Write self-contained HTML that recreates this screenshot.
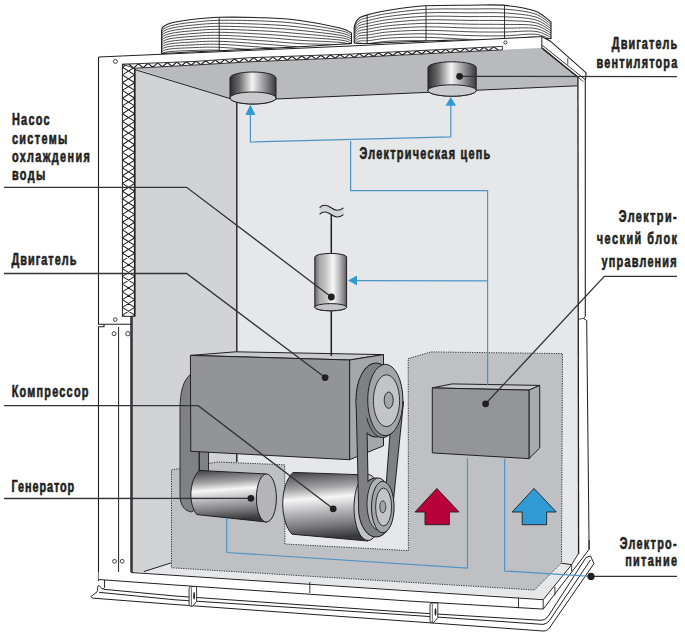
<!DOCTYPE html>
<html><head><meta charset="utf-8"><style>
html,body{margin:0;padding:0;background:#fff;width:685px;height:638px;overflow:hidden}
svg{display:block}
text{font-family:"Liberation Sans",sans-serif}
</style></head><body>
<svg width="685" height="638" viewBox="0 0 685 638">
<defs>
<linearGradient id="gv" x1="0" y1="0" x2="1" y2="0">
<stop offset="0" stop-color="#2e2e30"/><stop offset="0.2" stop-color="#6a6a6c"/><stop offset="0.48" stop-color="#f4f4f4"/><stop offset="0.66" stop-color="#b4b4b6"/><stop offset="0.86" stop-color="#6c6c6e"/><stop offset="1" stop-color="#3a3a3c"/>
</linearGradient>
<linearGradient id="gp" x1="0" y1="0" x2="1" y2="0">
<stop offset="0" stop-color="#646466"/><stop offset="0.15" stop-color="#a9a9ab"/><stop offset="0.35" stop-color="#c4c4c6"/><stop offset="0.57" stop-color="#f8f8f8"/><stop offset="0.76" stop-color="#bdbdbf"/><stop offset="0.9" stop-color="#89898b"/><stop offset="1" stop-color="#59595b"/>
</linearGradient>
<linearGradient id="gh" x1="0" y1="0" x2="0.1" y2="1">
<stop offset="0" stop-color="#3c3c3e"/><stop offset="0.12" stop-color="#6e6e70"/><stop offset="0.26" stop-color="#a4a4a6"/><stop offset="0.41" stop-color="#f6f6f6"/><stop offset="0.5" stop-color="#dadadc"/><stop offset="0.63" stop-color="#b0b0b2"/><stop offset="0.8" stop-color="#7e7e80"/><stop offset="1" stop-color="#38383a"/>
</linearGradient>
</defs>
<defs><clipPath id="fc1"><path d="M161.6,30 C161.9,29.4 161.8,27.7 163.5,26.5 C165.2,25.3 167.6,23.9 172,22.8 C176.4,21.7 182.2,20.7 190,19.8 C197.8,18.9 206.5,17.6 219,17.3 C231.5,17 251.5,17.3 265,17.8 C278.5,18.3 287.5,18.8 300,20.5 C312.5,22.2 331.4,25.9 340,28 C348.6,30.1 349.6,32.2 351.5,33 L351.5,43.5 L351.5,43.5 C349.6,43.6 348.6,43.8 340,44.3 C331.4,44.8 312.5,46.1 300,46.8 C287.5,47.5 278.5,47.9 265,48.6 C251.5,49.3 231.5,50.2 219,50.8 C206.5,51.4 197.8,51.6 190,52 C182.2,52.4 176.4,52.8 172,53 C167.6,53.2 165.2,53.3 163.5,53.4 C161.8,53.5 161.9,53.5 161.6,53.5 Z"/></clipPath><clipPath id="fc2"><path d="M354.2,27 C354.5,26.2 355,23.6 356,22 C357,20.4 357.9,18.7 360,17.5 C362.1,16.3 363.6,15.8 368.4,14.6 C373.2,13.4 379.2,11.7 388.8,10.2 C398.4,8.7 412.5,6.6 426,5.8 C439.5,5 456.8,5.3 470,5.2 C483.2,5.1 494.2,4.4 505,5.4 C515.8,6.4 527.3,8.2 535,11 C542.7,13.8 548.3,20.2 551,22 L551,38.5 L551,38.5 C548.3,38.5 542.7,38.7 535,38.8 C527.3,38.9 515.8,39 505,39.2 C494.2,39.4 483.2,39.5 470,39.8 C456.8,40.1 439.5,40.5 426,41 C412.5,41.5 398.4,42.1 388.8,42.5 C379.2,42.9 373.2,43.4 368.4,43.5 C363.6,43.6 362.1,43.4 360,43.4 C357.9,43.4 357,43.3 356,43.2 C355,43.1 354.5,43 354.2,43 Z"/></clipPath></defs>
<rect width="685" height="638" fill="#fff"/>
<path d="M161.6,30 C161.9,29.4 161.8,27.7 163.5,26.5 C165.2,25.3 167.6,23.9 172,22.8 C176.4,21.7 182.2,20.7 190,19.8 C197.8,18.9 206.5,17.6 219,17.3 C231.5,17 251.5,17.3 265,17.8 C278.5,18.3 287.5,18.8 300,20.5 C312.5,22.2 331.4,25.9 340,28 C348.6,30.1 349.6,32.2 351.5,33 L351.5,43.5 L351.5,43.5 C349.6,43.6 348.6,43.8 340,44.3 C331.4,44.8 312.5,46.1 300,46.8 C287.5,47.5 278.5,47.9 265,48.6 C251.5,49.3 231.5,50.2 219,50.8 C206.5,51.4 197.8,51.6 190,52 C182.2,52.4 176.4,52.8 172,53 C167.6,53.2 165.2,53.3 163.5,53.4 C161.8,53.5 161.9,53.5 161.6,53.5 Z" fill="#fff" stroke="none"/>
<path d="M161.6,32.3 C161.9,31.7 161.8,30 163.5,28.9 C165.2,27.8 167.6,26.5 172,25.4 C176.4,24.4 182.2,23.5 190,22.6 C197.8,21.8 206.5,20.6 219,20.3 C231.5,20.1 251.5,20.5 265,21.1 C278.5,21.7 287.5,22.2 300,23.8 C312.5,25.4 331.4,28.5 340,30.4 C348.6,32.3 349.6,34.2 351.5,35 M161.6,34.6 C161.9,34.1 161.8,32.4 163.5,31.3 C165.2,30.2 167.6,29 172,28 C176.4,27 182.2,26.2 190,25.4 C197.8,24.6 206.5,23.5 219,23.3 C231.5,23.1 251.5,23.8 265,24.4 C278.5,25 287.5,25.7 300,27.1 C312.5,28.5 331.4,31.1 340,32.8 C348.6,34.4 349.6,36.3 351.5,37 M161.6,36.9 C161.9,36.4 161.8,34.8 163.5,33.7 C165.2,32.7 167.6,31.5 172,30.6 C176.4,29.7 182.2,28.9 190,28.2 C197.8,27.5 206.5,26.4 219,26.3 C231.5,26.2 251.5,27 265,27.7 C278.5,28.4 287.5,29.1 300,30.4 C312.5,31.6 331.4,33.8 340,35.2 C348.6,36.6 349.6,38.4 351.5,39 M161.6,39.2 C161.9,38.7 161.8,37.1 163.5,36.1 C165.2,35.1 167.6,34.1 172,33.2 C176.4,32.4 182.2,31.6 190,31 C197.8,30.4 206.5,29.3 219,29.3 C231.5,29.3 251.5,30.3 265,31 C278.5,31.7 287.5,32.6 300,33.7 C312.5,34.8 331.4,36.4 340,37.6 C348.6,38.8 349.6,40.4 351.5,41 M161.6,41.5 C161.9,41 161.8,39.5 163.5,38.5 C165.2,37.5 167.6,36.6 172,35.8 C176.4,35 182.2,34.4 190,33.8 C197.8,33.2 206.5,32.2 219,32.3 C231.5,32.4 251.5,33.5 265,34.3 C278.5,35.1 287.5,36 300,37 C312.5,38 331.4,39 340,40 C348.6,41 349.6,42.5 351.5,43 M161.6,43.8 C161.9,43.3 161.8,41.8 163.5,40.9 C165.2,40 167.6,39.1 172,38.4 C176.4,37.7 182.2,37.1 190,36.6 C197.8,36.1 206.5,35.1 219,35.3 C231.5,35.5 251.5,36.8 265,37.6 C278.5,38.4 287.5,39.5 300,40.3 C312.5,41.1 331.4,41.6 340,42.4 C348.6,43.2 349.6,44.6 351.5,45 M161.6,46.1 C161.9,45.6 161.8,44.1 163.5,43.3 C165.2,42.4 167.6,41.6 172,41 C176.4,40.4 182.2,39.9 190,39.4 C197.8,38.9 206.5,38 219,38.3 C231.5,38.5 251.5,40 265,40.9 C278.5,41.8 287.5,42.9 300,43.6 C312.5,44.2 331.4,44.2 340,44.8 C348.6,45.4 349.6,46.6 351.5,47 M161.6,48.4 C161.9,48 161.8,46.5 163.5,45.7 C165.2,44.9 167.6,44.2 172,43.6 C176.4,43 182.2,42.6 190,42.2 C197.8,41.8 206.5,41 219,41.3 C231.5,41.6 251.5,43.3 265,44.2 C278.5,45.1 287.5,46.4 300,46.9 C312.5,47.4 331.4,46.9 340,47.2 C348.6,47.6 349.6,48.7 351.5,49 M161.6,50.7 C161.9,50.3 161.8,48.8 163.5,48.1 C165.2,47.3 167.6,46.7 172,46.2 C176.4,45.7 182.2,45.3 190,45 C197.8,44.7 206.5,43.9 219,44.3 C231.5,44.7 251.5,46.5 265,47.5 C278.5,48.5 287.5,49.9 300,50.2 C312.5,50.6 331.4,49.5 340,49.6 C348.6,49.7 349.6,50.8 351.5,51 M161.6,53 C161.9,52.6 161.8,51.2 163.5,50.5 C165.2,49.8 167.6,49.2 172,48.8 C176.4,48.3 182.2,48 190,47.8 C197.8,47.5 206.5,46.8 219,47.3 C231.5,47.8 251.5,49.8 265,50.8 C278.5,51.8 287.5,53.3 300,53.5 C312.5,53.7 331.4,52.1 340,52 C348.6,51.9 349.6,52.8 351.5,53 M161.6,55.3 C161.9,54.9 161.8,53.5 163.5,52.9 C165.2,52.2 167.6,51.8 172,51.4 C176.4,51 182.2,50.8 190,50.6 C197.8,50.4 206.5,49.7 219,50.3 C231.5,50.9 251.5,53 265,54.1 C278.5,55.2 287.5,56.8 300,56.8 C312.5,56.8 331.4,54.7 340,54.4 C348.6,54.1 349.6,54.9 351.5,55 M161.6,57.6 C161.9,57.2 161.8,55.9 163.5,55.3 C165.2,54.7 167.6,54.3 172,54 C176.4,53.7 182.2,53.5 190,53.4 C197.8,53.3 206.5,52.6 219,53.3 C231.5,54 251.5,56.3 265,57.4 C278.5,58.5 287.5,60.2 300,60.1 C312.5,60 331.4,57.3 340,56.8 C348.6,56.3 349.6,57 351.5,57 M161.6,59.9 C161.9,59.5 161.8,58.2 163.5,57.7 C165.2,57.2 167.6,56.9 172,56.6 C176.4,56.4 182.2,56.3 190,56.2 C197.8,56.1 206.5,55.5 219,56.3 C231.5,57 251.5,59.5 265,60.7 C278.5,61.9 287.5,63.6 300,63.4 C312.5,63.1 331.4,59.9 340,59.2 C348.6,58.5 349.6,59 351.5,59 M161.6,62.2 C161.9,61.8 161.8,60.6 163.5,60.1 C165.2,59.6 167.6,59.4 172,59.2 C176.4,59 182.2,59 190,59 C197.8,59 206.5,58.5 219,59.3 C231.5,60.1 251.5,62.8 265,64 C278.5,65.2 287.5,67.1 300,66.7 C312.5,66.3 331.4,62.5 340,61.6 C348.6,60.7 349.6,61.1 351.5,61" fill="none" stroke="#231f20" stroke-width="0.8" clip-path="url(#fc1)"/>
<line x1="219.2" y1="17.3" x2="219.2" y2="50.8" stroke="#231f20" stroke-width="0.9"/>
<path d="M161.6,30 C161.9,29.4 161.8,27.7 163.5,26.5 C165.2,25.3 167.6,23.9 172,22.8 C176.4,21.7 182.2,20.7 190,19.8 C197.8,18.9 206.5,17.6 219,17.3 C231.5,17 251.5,17.3 265,17.8 C278.5,18.3 287.5,18.8 300,20.5 C312.5,22.2 331.4,25.9 340,28 C348.6,30.1 349.6,32.2 351.5,33 L351.5,43.5 L351.5,43.5 C349.6,43.6 348.6,43.8 340,44.3 C331.4,44.8 312.5,46.1 300,46.8 C287.5,47.5 278.5,47.9 265,48.6 C251.5,49.3 231.5,50.2 219,50.8 C206.5,51.4 197.8,51.6 190,52 C182.2,52.4 176.4,52.8 172,53 C167.6,53.2 165.2,53.3 163.5,53.4 C161.8,53.5 161.9,53.5 161.6,53.5 Z" fill="none" stroke="#231f20" stroke-width="1.1"/>
<path d="M354.2,27 C354.5,26.2 355,23.6 356,22 C357,20.4 357.9,18.7 360,17.5 C362.1,16.3 363.6,15.8 368.4,14.6 C373.2,13.4 379.2,11.7 388.8,10.2 C398.4,8.7 412.5,6.6 426,5.8 C439.5,5 456.8,5.3 470,5.2 C483.2,5.1 494.2,4.4 505,5.4 C515.8,6.4 527.3,8.2 535,11 C542.7,13.8 548.3,20.2 551,22 L551,38.5 L551,38.5 C548.3,38.5 542.7,38.7 535,38.8 C527.3,38.9 515.8,39 505,39.2 C494.2,39.4 483.2,39.5 470,39.8 C456.8,40.1 439.5,40.5 426,41 C412.5,41.5 398.4,42.1 388.8,42.5 C379.2,42.9 373.2,43.4 368.4,43.5 C363.6,43.6 362.1,43.4 360,43.4 C357.9,43.4 357,43.3 356,43.2 C355,43.1 354.5,43 354.2,43 Z" fill="#fff" stroke="none"/>
<path d="M354.2,29 C354.5,28.2 355,25.8 356,24.3 C357,22.8 357.9,21.2 360,20.1 C362.1,19 363.6,18.6 368.4,17.5 C373.2,16.4 379.2,14.7 388.8,13.3 C398.4,11.9 412.5,10 426,9.3 C439.5,8.6 456.8,9 470,9 C483.2,9 494.2,8.4 505,9.2 C515.8,10 527.3,11.4 535,13.9 C542.7,16.4 548.3,22.5 551,24.2 M354.2,31 C354.5,30.3 355,28 356,26.6 C357,25.2 357.9,23.7 360,22.7 C362.1,21.7 363.6,21.4 368.4,20.4 C373.2,19.3 379.2,17.7 388.8,16.4 C398.4,15.1 412.5,13.4 426,12.8 C439.5,12.2 456.8,12.8 470,12.8 C483.2,12.8 494.2,12.3 505,13 C515.8,13.7 527.3,14.6 535,16.8 C542.7,19 548.3,24.8 551,26.4 M354.2,33 C354.5,32.3 355,30.2 356,28.9 C357,27.6 357.9,26.2 360,25.3 C362.1,24.4 363.6,24.3 368.4,23.3 C373.2,22.3 379.2,20.7 388.8,19.5 C398.4,18.3 412.5,16.8 426,16.3 C439.5,15.8 456.8,16.5 470,16.6 C483.2,16.7 494.2,16.3 505,16.8 C515.8,17.3 527.3,17.7 535,19.7 C542.7,21.7 548.3,27.1 551,28.6 M354.2,35 C354.5,34.4 355,32.4 356,31.2 C357,30 357.9,28.7 360,27.9 C362.1,27.1 363.6,27.1 368.4,26.2 C373.2,25.3 379.2,23.7 388.8,22.6 C398.4,21.5 412.5,20.2 426,19.8 C439.5,19.4 456.8,20.3 470,20.4 C483.2,20.5 494.2,20.2 505,20.6 C515.8,21 527.3,20.9 535,22.6 C542.7,24.3 548.3,29.4 551,30.8 M354.2,37 C354.5,36.4 355,34.6 356,33.5 C357,32.4 357.9,31.2 360,30.5 C362.1,29.8 363.6,29.9 368.4,29.1 C373.2,28.3 379.2,26.7 388.8,25.7 C398.4,24.7 412.5,23.6 426,23.3 C439.5,23.1 456.8,24 470,24.2 C483.2,24.4 494.2,24.2 505,24.4 C515.8,24.6 527.3,24.1 535,25.5 C542.7,26.9 548.3,31.8 551,33 M354.2,39 C354.5,38.5 355,36.8 356,35.8 C357,34.8 357.9,33.7 360,33.1 C362.1,32.5 363.6,32.7 368.4,32 C373.2,31.3 379.2,29.7 388.8,28.8 C398.4,27.9 412.5,26.9 426,26.8 C439.5,26.7 456.8,27.8 470,28 C483.2,28.2 494.2,28.1 505,28.2 C515.8,28.3 527.3,27.2 535,28.4 C542.7,29.6 548.3,34.1 551,35.2 M354.2,41 C354.5,40.5 355,39 356,38.1 C357,37.2 357.9,36.2 360,35.7 C362.1,35.2 363.6,35.5 368.4,34.9 C373.2,34.3 379.2,32.7 388.8,31.9 C398.4,31.1 412.5,30.3 426,30.3 C439.5,30.3 456.8,31.5 470,31.8 C483.2,32.1 494.2,32.1 505,32 C515.8,31.9 527.3,30.4 535,31.3 C542.7,32.2 548.3,36.4 551,37.4 M354.2,43 C354.5,42.6 355,41.2 356,40.4 C357,39.6 357.9,38.7 360,38.3 C362.1,37.9 363.6,38.3 368.4,37.8 C373.2,37.2 379.2,35.7 388.8,35 C398.4,34.3 412.5,33.7 426,33.8 C439.5,33.9 456.8,35.3 470,35.6 C483.2,35.9 494.2,36 505,35.8 C515.8,35.6 527.3,33.6 535,34.2 C542.7,34.8 548.3,38.7 551,39.6 M354.2,45 C354.5,44.6 355,43.4 356,42.7 C357,42 357.9,41.2 360,40.9 C362.1,40.6 363.6,41.2 368.4,40.7 C373.2,40.2 379.2,38.7 388.8,38.1 C398.4,37.5 412.5,37.1 426,37.3 C439.5,37.5 456.8,39 470,39.4 C483.2,39.8 494.2,40 505,39.6 C515.8,39.2 527.3,36.7 535,37.1 C542.7,37.5 548.3,41 551,41.8 M354.2,47 C354.5,46.7 355,45.6 356,45 C357,44.4 357.9,43.7 360,43.5 C362.1,43.3 363.6,44 368.4,43.6 C373.2,43.2 379.2,41.7 388.8,41.2 C398.4,40.7 412.5,40.5 426,40.8 C439.5,41.1 456.8,42.8 470,43.2 C483.2,43.6 494.2,43.9 505,43.4 C515.8,42.9 527.3,39.9 535,40 C542.7,40.1 548.3,43.3 551,44 M354.2,49 C354.5,48.7 355,47.8 356,47.3 C357,46.8 357.9,46.2 360,46.1 C362.1,46 363.6,46.8 368.4,46.5 C373.2,46.2 379.2,44.7 388.8,44.3 C398.4,43.9 412.5,43.8 426,44.3 C439.5,44.8 456.8,46.5 470,47 C483.2,47.5 494.2,47.9 505,47.2 C515.8,46.5 527.3,43.1 535,42.9 C542.7,42.7 548.3,45.7 551,46.2 M354.2,51 C354.5,50.8 355,50 356,49.6 C357,49.2 357.9,48.7 360,48.7 C362.1,48.7 363.6,49.6 368.4,49.4 C373.2,49.2 379.2,47.7 388.8,47.4 C398.4,47.1 412.5,47.2 426,47.8 C439.5,48.4 456.8,50.3 470,50.8 C483.2,51.3 494.2,51.8 505,51 C515.8,50.2 527.3,46.2 535,45.8 C542.7,45.4 548.3,48 551,48.4 M354.2,53 C354.5,52.8 355,52.2 356,51.9 C357,51.6 357.9,51.2 360,51.3 C362.1,51.4 363.6,52.4 368.4,52.3 C373.2,52.2 379.2,50.7 388.8,50.5 C398.4,50.3 412.5,50.6 426,51.3 C439.5,52 456.8,54 470,54.6 C483.2,55.2 494.2,55.8 505,54.8 C515.8,53.8 527.3,49.4 535,48.7 C542.7,48 548.3,50.3 551,50.6 M354.2,55 C354.5,54.9 355,54.4 356,54.2 C357,54 357.9,53.7 360,53.9 C362.1,54.1 363.6,55.2 368.4,55.2 C373.2,55.2 379.2,53.7 388.8,53.6 C398.4,53.5 412.5,54 426,54.8 C439.5,55.6 456.8,57.8 470,58.4 C483.2,59 494.2,59.7 505,58.6 C515.8,57.5 527.3,52.6 535,51.6 C542.7,50.6 548.3,52.6 551,52.8" fill="none" stroke="#231f20" stroke-width="0.8" clip-path="url(#fc2)"/>
<line x1="367.2" y1="15" x2="367.2" y2="43.5" stroke="#231f20" stroke-width="0.9"/>
<line x1="426" y1="5.8" x2="426" y2="41" stroke="#231f20" stroke-width="0.9"/>
<line x1="504.5" y1="5.4" x2="504.5" y2="39.2" stroke="#231f20" stroke-width="0.9"/>
<path d="M354.2,27 C354.5,26.2 355,23.6 356,22 C357,20.4 357.9,18.7 360,17.5 C362.1,16.3 363.6,15.8 368.4,14.6 C373.2,13.4 379.2,11.7 388.8,10.2 C398.4,8.7 412.5,6.6 426,5.8 C439.5,5 456.8,5.3 470,5.2 C483.2,5.1 494.2,4.4 505,5.4 C515.8,6.4 527.3,8.2 535,11 C542.7,13.8 548.3,20.2 551,22 L551,38.5 L551,38.5 C548.3,38.5 542.7,38.7 535,38.8 C527.3,38.9 515.8,39 505,39.2 C494.2,39.4 483.2,39.5 470,39.8 C456.8,40.1 439.5,40.5 426,41 C412.5,41.5 398.4,42.1 388.8,42.5 C379.2,42.9 373.2,43.4 368.4,43.5 C363.6,43.6 362.1,43.4 360,43.4 C357.9,43.4 357,43.3 356,43.2 C355,43.1 354.5,43 354.2,43 Z" fill="none" stroke="#231f20" stroke-width="1.1"/>
<polygon points="98.5,57 541.8,36.6 550.4,41.2 586.2,72.9 586,320 589.7,549 589.7,560 543,615 99,581" fill="#fff" stroke="none"/>
<polygon points="131,66 541.8,47.9 577.5,76.8 578.7,554 571.3,564 543.3,598.7 131,572" fill="#e6e7e8"/>
<polygon points="134.5,68.2 195,65 250,61.8 350,57.7 502.4,49.9 541.8,47.9 577.5,76.8 577.5,85.8 237,100.7" fill="#b9babd"/>
<polygon points="131,68 237,100.7 237,560 171.4,562.8 143.8,571.6 131,571.6" fill="#d2d3d5"/>
<polyline points="134.5,69.5 237,100.7 577.5,85.8" fill="none" stroke="#231f20" stroke-width="1"/>
<polyline points="143.8,571.6 171.4,562.8" fill="none" stroke="#231f20" stroke-width="1"/>
<line x1="131.5" y1="316" x2="131.5" y2="572" stroke="#38383a" stroke-width="2.6"/>
<line x1="236.8" y1="100.7" x2="236.8" y2="462" stroke="#231f20" stroke-width="1.4"/>
<polyline points="98.5,57 250,50.4 350,46 541.8,36.6" fill="none" stroke="#231f20" stroke-width="1"/>
<polyline points="541.8,36.6 550.4,41.2 586.2,72.9 585.3,80 585.3,316.5" fill="none" stroke="#231f20" stroke-width="1.1"/>
<polyline points="541.8,36.6 541.8,47.9" fill="none" stroke="#231f20" stroke-width="1"/>
<polyline points="541.8,47.9 577.5,76.8" fill="none" stroke="#231f20" stroke-width="1.4"/>
<polyline points="542.3,45.3 585.8,80" fill="none" stroke="#231f20" stroke-width="0.9"/>
<polyline points="543,49.3 583.5,81.7" fill="none" stroke="#231f20" stroke-width="0.8"/>
<line x1="567.8" y1="58.1" x2="567.8" y2="64.7" stroke="#231f20" stroke-width="0.8"/>
<line x1="577.9" y1="77" x2="578.6" y2="554" stroke="#231f20" stroke-width="1.3"/>
<polyline points="585.3,316.5 583.4,318.4 586.7,320.5 589.1,549.4" fill="none" stroke="#231f20" stroke-width="1"/>
<polyline points="578.5,319.3 583.4,318.4" fill="none" stroke="#231f20" stroke-width="0.8"/>
<polyline points="98.5,57 98.5,324.2 131,324.2" fill="none" stroke="#231f20" stroke-width="1.1"/>
<polyline points="104,324.2 104,326.8 98.5,326.8 98.5,581" fill="none" stroke="#231f20" stroke-width="1.1"/>
<line x1="118.6" y1="326.8" x2="118.6" y2="581" stroke="#231f20" stroke-width="1"/>
<circle cx="115.4" cy="61.4" r="2" fill="#fff" stroke="#231f20" stroke-width="0.85"/>
<circle cx="115.2" cy="319.6" r="1.8" fill="#fff" stroke="#231f20" stroke-width="0.85"/>
<circle cx="114.1" cy="333.7" r="2" fill="#fff" stroke="#231f20" stroke-width="0.85"/>
<circle cx="127.9" cy="333.7" r="2.2" fill="#fff" stroke="#231f20" stroke-width="0.85"/>
<circle cx="505.4" cy="42.5" r="1.6" fill="#fff" stroke="#231f20" stroke-width="0.85"/>
<circle cx="114.5" cy="561.3" r="1.9" fill="#fff" stroke="#231f20" stroke-width="0.85"/>
<circle cx="122.2" cy="561.3" r="1.9" fill="#fff" stroke="#231f20" stroke-width="0.85"/>
<rect x="122.4" y="64.3" width="12.3" height="252" fill="#fff" stroke="#231f20" stroke-width="1"/>
<clipPath id="hc"><rect x="122.4" y="64.3" width="12.3" height="252"/></clipPath>
<path d="M122.4,51.7 L134.7,59.4 M134.7,51.7 L122.4,59.4 M122.4,59.4 L134.7,67.2 M134.7,59.4 L122.4,67.2 M122.4,67.2 L134.7,74.9 M134.7,67.2 L122.4,74.9 M122.4,74.9 L134.7,82.7 M134.7,74.9 L122.4,82.7 M122.4,82.7 L134.7,90.4 M134.7,82.7 L122.4,90.4 M122.4,90.4 L134.7,98.2 M134.7,90.4 L122.4,98.2 M122.4,98.2 L134.7,105.9 M134.7,98.2 L122.4,105.9 M122.4,105.9 L134.7,113.7 M134.7,105.9 L122.4,113.7 M122.4,113.7 L134.7,121.4 M134.7,113.7 L122.4,121.4 M122.4,121.4 L134.7,129.2 M134.7,121.4 L122.4,129.2 M122.4,129.2 L134.7,136.9 M134.7,129.2 L122.4,136.9 M122.4,136.9 L134.7,144.7 M134.7,136.9 L122.4,144.7 M122.4,144.7 L134.7,152.4 M134.7,144.7 L122.4,152.4 M122.4,152.4 L134.7,160.2 M134.7,152.4 L122.4,160.2 M122.4,160.2 L134.7,167.9 M134.7,160.2 L122.4,167.9 M122.4,167.9 L134.7,175.7 M134.7,167.9 L122.4,175.7 M122.4,175.7 L134.7,183.4 M134.7,175.7 L122.4,183.4 M122.4,183.4 L134.7,191.2 M134.7,183.4 L122.4,191.2 M122.4,191.2 L134.7,198.9 M134.7,191.2 L122.4,198.9 M122.4,198.9 L134.7,206.7 M134.7,198.9 L122.4,206.7 M122.4,206.7 L134.7,214.4 M134.7,206.7 L122.4,214.4 M122.4,214.4 L134.7,222.2 M134.7,214.4 L122.4,222.2 M122.4,222.2 L134.7,229.9 M134.7,222.2 L122.4,229.9 M122.4,229.9 L134.7,237.7 M134.7,229.9 L122.4,237.7 M122.4,237.7 L134.7,245.4 M134.7,237.7 L122.4,245.4 M122.4,245.4 L134.7,253.2 M134.7,245.4 L122.4,253.2 M122.4,253.2 L134.7,260.9 M134.7,253.2 L122.4,260.9 M122.4,260.9 L134.7,268.6 M134.7,260.9 L122.4,268.6 M122.4,268.6 L134.7,276.4 M134.7,268.6 L122.4,276.4 M122.4,276.4 L134.7,284.1 M134.7,276.4 L122.4,284.1 M122.4,284.1 L134.7,291.9 M134.7,284.1 L122.4,291.9 M122.4,291.9 L134.7,299.6 M134.7,291.9 L122.4,299.6 M122.4,299.6 L134.7,307.4 M134.7,299.6 L122.4,307.4 M122.4,307.4 L134.7,315.1 M134.7,307.4 L122.4,315.1 M122.4,315.1 L134.7,322.9 M134.7,315.1 L122.4,322.9" stroke="#231f20" stroke-width="1.05" fill="none" clip-path="url(#hc)"/>
<line x1="134.7" y1="68.3" x2="134.7" y2="316.3" stroke="#231f20" stroke-width="1.6"/>
<clipPath id="zc"><polygon points="122.4,64.3 195,61.4 250,57.7 350,54.1 502.4,46.4 502.4,49.9 502.4,49.9 350,57.7 250,61.8 195,65 134.7,68.2"/></clipPath>
<polygon points="122.4,64.3 195,61.4 250,57.7 350,54.1 502.4,46.4 502.4,49.9 502.4,49.9 350,57.7 250,61.8 195,65 134.7,68.2" fill="#fff" stroke="#231f20" stroke-width="0.9"/>
<polyline points="128.8,64 133.6,68.2 138.4,63.7 143.2,67.7 148,63.3 152.8,67.2 157.6,62.9 162.4,66.7 167.2,62.5 172,66.2 176.8,62.1 181.6,65.7 186.4,61.7 191.2,65.2 196,61.3 200.8,64.7 205.6,60.7 210.4,64.1 215.2,60 220,63.5 224.8,59.4 229.6,63 234.4,58.7 239.2,62.4 244,58.1 248.8,61.9 253.6,57.6 258.4,61.5 263.2,57.2 268,61.1 272.8,56.9 277.6,60.7 282.4,56.5 287.2,60.3 292,56.2 296.8,59.9 301.6,55.8 306.4,59.5 311.2,55.5 316,59.1 320.8,55.2 325.6,58.7 330.4,54.8 335.2,58.3 340,54.5 344.8,57.9 349.6,54.1 354.4,57.5 359.2,53.6 364,57 368.8,53.2 373.6,56.5 378.4,52.7 383.2,56 388,52.2 392.8,55.5 397.6,51.7 402.4,55 407.2,51.2 412,54.5 416.8,50.7 421.6,54 426.4,50.2 431.2,53.5 436,49.8 440.8,53.1 445.6,49.3 450.4,52.6 455.2,48.8 460,52.1 464.8,48.3 469.6,51.6 474.4,47.8 479.2,51.1 484,47.3 488.8,50.6 493.6,46.8 498.4,50.1" fill="none" stroke="#231f20" stroke-width="1.15" clip-path="url(#zc)"/>
<polygon points="98.6,572 131,572 543.2,599.7 571.6,564.7 589.1,549.4 589.1,560 547,625 543.2,609.1 410,601.1 175,585 98.6,579.5" fill="#fff"/>
<polyline points="131,572.5 543.2,599.7" fill="none" stroke="#231f20" stroke-width="1"/>
<polyline points="98.6,579.5 175,585 410,601.1 543.2,609.1 589.1,549.4 589.1,540" fill="none" stroke="#231f20" stroke-width="1"/>
<line x1="309.8" y1="582" x2="309.8" y2="593" stroke="#231f20" stroke-width="0.9"/>
<line x1="543.2" y1="599.7" x2="543.2" y2="609.1" stroke="#231f20" stroke-width="0.9"/>
<line x1="518.5" y1="597.7" x2="518.5" y2="608.2" stroke="#231f20" stroke-width="0.9"/>
<line x1="554.9" y1="586.5" x2="554.9" y2="595.3" stroke="#231f20" stroke-width="0.9"/>
<polyline points="543.2,599.7 571.6,564.7 561.3,563.2" fill="none" stroke="#231f20" stroke-width="1"/>
<line x1="571.6" y1="564.7" x2="571.6" y2="571.2" stroke="#231f20" stroke-width="0.9"/>
<line x1="578.7" y1="553" x2="571.6" y2="564.7" stroke="#231f20" stroke-width="0.9"/>
<path d="M103.7,589.3 175,596 410,612.4 541,620.3 Q545,620.5 548,616.5 L586,557.5 L590.5,556 L594,563.5 L551.5,625 Q548,631.5 543,631 L410,621.4 L175,604.5 L92.4,598.1 L90.9,596.6 L97.1,591.8 L98.2,585.8 L101.5,588.5 L104.6,587.2 L104.6,580 Z" fill="#fff" stroke="none"/>
<path d="M103.7,589.3 175,596 410,612.4 541,620.3 Q545,620.5 548,616.5 L586,557.5" fill="none" stroke="#231f20" stroke-width="1"/>
<path d="M99,592.3 175,599.8 410,615.2 543,624.4 Q547,624 549.5,620.5 L590.5,560" fill="none" stroke="#231f20" stroke-width="1"/>
<path d="M92.4,598.1 175,604.5 410,621.4 543,631 Q548,631.5 551.5,625 L594,563.5 L590.5,556 L586,557.5" fill="none" stroke="#231f20" stroke-width="1"/>
<path d="M104.6,580 L104.6,587.2 C104,589 102,589.5 101.5,588.5 C100.5,586.5 98.8,585 98.2,585.8 C97.2,587.5 97.8,590.5 97.1,591.8 L90.9,596.6 L92.4,598.1" fill="none" stroke="#231f20" stroke-width="1"/>
<path d="M191.1,586.6 L196.6,586.6 L196.6,601.3 L192.6,606.3 L191.1,606.3 Q189.1,606.3 189.1,604.3 L189.1,588.6 Q189.1,586.6 191.1,586.6 Z" fill="#fff" stroke="#231f20" stroke-width="0.9"/><line x1="191.4" y1="587.6" x2="191.4" y2="605.8" stroke="#231f20" stroke-width="0.7"/><ellipse cx="194.1" cy="595.7" rx="0.9" ry="3.8" fill="#231f20"/>
<path d="M432,603 L437.8,603 L437.8,617.6 L433.5,622.6 L432,622.6 Q430,622.6 430,620.6 L430,605 Q430,603 432,603 Z" fill="#fff" stroke="#231f20" stroke-width="0.9"/><line x1="432.3" y1="604" x2="432.3" y2="622.1" stroke="#231f20" stroke-width="0.7"/><ellipse cx="435.5" cy="612" rx="0.9" ry="3.8" fill="#231f20"/>
<polygon points="171.5,470 217.7,462 284.7,464.8 284.9,544 408.4,550.6 408.2,358.6 431,351.9 562.5,353.6 561.5,562.7 534.5,590 171.5,567.8" fill="#bfc0c3" stroke="#231f20" stroke-width="0.9" stroke-dasharray="1.2 1.2"/>
<path d="M191,374 C183,380 180,392 180,410 L180,495 C180,505 184,511 192,512 L199,505 L199,380 Z" fill="#808184" stroke="#231f20" stroke-width="0.9"/>
<rect x="199.5" y="450" width="9" height="22" fill="#808184" stroke="#231f20" stroke-width="0.9"/>
<polygon points="190.4,355.4 235.8,351.8 383.5,354.6 349.6,360" fill="#c9cacc" stroke="#231f20" stroke-width="1"/>
<polygon points="349.6,360 383.5,354.6 383.5,445.8 349.6,459.7" fill="#a6a7aa" stroke="#231f20" stroke-width="1"/>
<polygon points="190.4,355.4 349.6,360 349.6,459.7 190.8,451.3" fill="#939497" stroke="#231f20" stroke-width="1"/>
<polygon points="432.3,387.9 452.1,383.9 539.7,385.4 529,390.1" fill="#c6c7c9" stroke="#231f20" stroke-width="1"/>
<polygon points="529,390.1 539.7,385.4 539.7,448 529,458.6" fill="#a9aaad" stroke="#231f20" stroke-width="1"/>
<polygon points="432.3,387.9 529,390.1 529,458.6 432.3,452.9" fill="#949598" stroke="#231f20" stroke-width="1"/>
<path d="M199.3,470.4 L266.4,474 L266.4,522 L196.9,514.6 C189,506 188,482 199.3,470.4 Z" fill="url(#gh)" stroke="#231f20" stroke-width="1"/>
<ellipse cx="266.4" cy="498" rx="10" ry="24" fill="#b4b5b8" stroke="#231f20" stroke-width="1"/>
<path d="M293,472.4 L368,475 L368,541 L292,534.2 C280,522 279,486 293,472.4 Z" fill="url(#gh)" stroke="#231f20" stroke-width="1"/>
<ellipse cx="368" cy="507.5" rx="14" ry="33" fill="#c2c3c5" stroke="#231f20" stroke-width="1"/>
<g fill="#231f20" stroke="#231f20" stroke-width="2"><ellipse cx="376" cy="400" rx="19.5" ry="36.6"/><ellipse cx="376" cy="507.5" rx="17" ry="29"/><polygon points="356.6,400 366,400 368,507 359.1,507"/><polygon points="393,400 403,402 393,500 385.5,500"/></g>
<g fill="#7f8083" stroke="none"><ellipse cx="376" cy="400" rx="19.5" ry="36.6"/><ellipse cx="376" cy="507.5" rx="17" ry="29"/><polygon points="356.6,400 366,400 368,507 359.1,507"/><polygon points="393,400 403,402 393,500 385.5,500"/></g>
<clipPath id="pb"><rect x="340" y="418" width="60" height="30"/></clipPath>
<ellipse cx="382.5" cy="402" rx="17.6" ry="35.7" fill="#7f8083" stroke="none"/>
<ellipse cx="382.5" cy="402" rx="17.6" ry="35.7" fill="none" stroke="#231f20" stroke-width="0.9" clip-path="url(#pb)"/>
<ellipse cx="385.3" cy="400" rx="17.6" ry="35.7" fill="#a4a5a8" stroke="#231f20" stroke-width="1"/>
<ellipse cx="386.5" cy="400.7" rx="13.1" ry="25.9" fill="#c3c4c6" stroke="#231f20" stroke-width="0.9"/>
<ellipse cx="388.7" cy="400.2" rx="4.5" ry="8.2" fill="#a4a5a8" stroke="#231f20" stroke-width="0.9"/>
<ellipse cx="378.5" cy="504" rx="11.5" ry="26" fill="#b3b4b7" stroke="#231f20" stroke-width="0.9"/>
<ellipse cx="382.8" cy="507" rx="11.3" ry="25.7" fill="#a4a5a8" stroke="#231f20" stroke-width="1"/>
<ellipse cx="383.6" cy="507" rx="8" ry="19" fill="#c3c4c6" stroke="#231f20" stroke-width="0.9"/>
<ellipse cx="382.8" cy="506.8" rx="3" ry="6" fill="#a4a5a8" stroke="#231f20" stroke-width="0.8"/>
<path d="M230,78 A23,6 0 0 1 276,78 L276,98 A23,6 0 0 1 230,98 Z" fill="url(#gv)" stroke="#231f20" stroke-width="1"/>
<ellipse cx="253" cy="98" rx="23" ry="6" fill="#c9cacc" stroke="#231f20" stroke-width="1"/>
<path d="M428,67.5 A24.1,5.7 0 0 1 476.2,67.5 L476.2,90.5 A24.1,5.7 0 0 1 428,90.5 Z" fill="url(#gv)" stroke="#231f20" stroke-width="1"/>
<ellipse cx="452.1" cy="90.5" rx="24.1" ry="5.7" fill="#c9cacc" stroke="#231f20" stroke-width="1"/>
<line x1="331.3" y1="214.5" x2="331.3" y2="256" stroke="#231f20" stroke-width="1.5"/>
<line x1="331.3" y1="309" x2="331.3" y2="356" stroke="#231f20" stroke-width="1.5"/>
<path d="M314.8,257 A15.9,3.6 0 0 1 346.6,257 L346.6,307.2 A15.9,3.6 0 0 1 314.8,307.2 Z" fill="url(#gp)" stroke="#231f20" stroke-width="1"/>
<ellipse cx="330.7" cy="307.2" rx="15.9" ry="3.6" fill="#c3c4c6" stroke="#231f20" stroke-width="1"/>
<path d="M319.6,207.6 C321.5,205.6 323.5,205.2 325.4,205.3 C330,205.5 332.5,210.3 337.1,210.3 C340,210.3 342,209 343.5,207.9 L343.5,214.6 C342,215.7 340,217.0 337.1,217.0 C332.5,217.0 330,212.2 325.4,212.0 C323.5,211.89999999999998 321.5,212.29999999999998 319.6,214.29999999999998 Z" fill="#d3d4d6" stroke="none"/>
<path d="M319.6,207.6 C321.5,205.6 323.5,205.2 325.4,205.3 C330,205.5 332.5,210.3 337.1,210.3 C340,210.3 342,209 343.5,207.9 M319.6,214.29999999999998 C321.5,212.29999999999998 323.5,211.89999999999998 325.4,212.0 C330,212.2 332.5,217.0 337.1,217.0 C340,217.0 342,215.7 343.5,214.6" fill="none" stroke="#231f20" stroke-width="1.1"/>
<polyline points="250.4,112 250.4,142 450.8,136.8 450.8,103" fill="none" stroke="#4e93c5" stroke-width="1.2"/>
<polyline points="350.6,141 350.6,190.6 487.6,190.6 487.6,385.5" fill="none" stroke="#4e93c5" stroke-width="1.2"/>
<polyline points="487.6,280.8 354,280.6" fill="none" stroke="#4e93c5" stroke-width="1.2"/>
<polyline points="467.5,458 467.5,568 226.7,552.5 226.7,518" fill="none" stroke="#4e93c5" stroke-width="1.2"/>
<polyline points="504.7,458.6 504.7,571 591,576.4" fill="none" stroke="#4e93c5" stroke-width="1.2"/>
<polygon points="250.4,104.6 255.4,115 245.4,115" fill="#2f9ad4"/>
<polygon points="450.8,97 456.1,105.7 445.5,105.7" fill="#2f9ad4"/>
<polygon points="348,280.6 357,275.6 357,285.6" fill="#2f9ad4"/>
<polygon points="436.8,488.4 459.1,512 449.4,512 449.4,524.7 425,524.7 425,512 415,512" fill="#b8003a" stroke="#231f20" stroke-width="0.9" stroke-linejoin="miter"/>
<polygon points="534,488.4 556.3,512 546.6,512 546.6,524.7 522.2,524.7 522.2,512 512.2,512" fill="#2f9ad4" stroke="#231f20" stroke-width="0.9" stroke-linejoin="miter"/>
<polyline points="459.6,76.3 677,76.7" fill="none" stroke="#333" stroke-width="1.3"/>
<circle cx="459.6" cy="76.3" r="3.4" fill="#231f20"/>
<polyline points="4,187.3 186.6,187.3 331.3,297" fill="none" stroke="#333" stroke-width="1.3"/>
<circle cx="331.3" cy="297" r="3.4" fill="#231f20"/>
<polyline points="4,273.5 186.6,273.5 325.1,377.6" fill="none" stroke="#333" stroke-width="1.3"/>
<circle cx="325.1" cy="377.6" r="3.4" fill="#231f20"/>
<polyline points="4,405.7 198.2,405.7 333.2,508.8" fill="none" stroke="#333" stroke-width="1.3"/>
<circle cx="333.2" cy="508.8" r="3.4" fill="#231f20"/>
<polyline points="4,498.5 250.9,498.3" fill="none" stroke="#333" stroke-width="1.3"/>
<circle cx="250.9" cy="498.3" r="3.4" fill="#231f20"/>
<polyline points="677,276.3 604.3,276.3 485.6,403.8" fill="none" stroke="#333" stroke-width="1.3"/>
<circle cx="485.6" cy="403.8" r="3.4" fill="#231f20"/>
<polyline points="677,576.4 591,576.4" fill="none" stroke="#333" stroke-width="1.3"/>
<circle cx="591" cy="576.4" r="3.6" fill="#231f20"/>
<g font-family="Liberation Sans, sans-serif" font-weight="bold" font-size="16" fill="#231f20" stroke="#231f20" stroke-width="0.55">
<text transform="translate(11.9,124.7) scale(0.68,1)" textLength="55.4" lengthAdjust="spacing" vector-effect="non-scaling-stroke">Насос</text>
<text transform="translate(11.9,143.9) scale(0.68,1)" textLength="81.6" lengthAdjust="spacing" vector-effect="non-scaling-stroke">системы</text>
<text transform="translate(11.9,161.7) scale(0.68,1)" textLength="114.7" lengthAdjust="spacing" vector-effect="non-scaling-stroke">охлаждения</text>
<text transform="translate(11.9,180) scale(0.68,1)" textLength="49" lengthAdjust="spacing" vector-effect="non-scaling-stroke">воды</text>
<text transform="translate(11.4,265.2) scale(0.68,1)" textLength="95.7" lengthAdjust="spacing" vector-effect="non-scaling-stroke">Двигатель</text>
<text transform="translate(11.7,396.8) scale(0.68,1)" textLength="112.8" lengthAdjust="spacing" vector-effect="non-scaling-stroke">Компрессор</text>
<text transform="translate(11.6,491.9) scale(0.68,1)" textLength="92.1" lengthAdjust="spacing" vector-effect="non-scaling-stroke">Генератор</text>
<text transform="translate(611.8,49.4) scale(0.68,1)" textLength="96.2" lengthAdjust="spacing" vector-effect="non-scaling-stroke">Двигатель</text>
<text transform="translate(596.5,68) scale(0.68,1)" textLength="118.7" lengthAdjust="spacing" vector-effect="non-scaling-stroke">вентилятора</text>
<text transform="translate(359.6,158.5) scale(0.68,1)" textLength="192.1" lengthAdjust="spacing" vector-effect="non-scaling-stroke">Электрическая цепь</text>
<text transform="translate(618.8,221.6) scale(0.68,1)" textLength="85" lengthAdjust="spacing" vector-effect="non-scaling-stroke">Электри-</text>
<text transform="translate(596.8,243.9) scale(0.68,1)" textLength="117.9" lengthAdjust="spacing" vector-effect="non-scaling-stroke">ческий блок</text>
<text transform="translate(601.6,266.6) scale(0.68,1)" textLength="110.3" lengthAdjust="spacing" vector-effect="non-scaling-stroke">управления</text>
<text transform="translate(619.7,548.7) scale(0.68,1)" textLength="83.8" lengthAdjust="spacing" vector-effect="non-scaling-stroke">Электро-</text>
<text transform="translate(625.2,566.2) scale(0.68,1)" textLength="76.3" lengthAdjust="spacing" vector-effect="non-scaling-stroke">питание</text>
</g>
</svg>
</body></html>
